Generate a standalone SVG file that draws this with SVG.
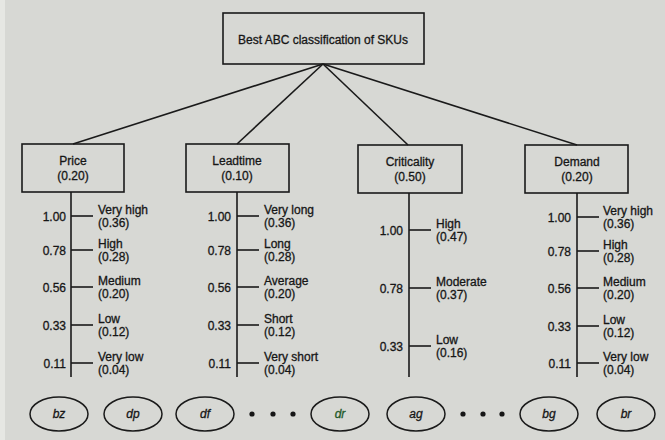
<svg xmlns="http://www.w3.org/2000/svg" width="665" height="440" viewBox="0 0 665 440">
<style>
.bg{fill:#d7d8d4}
.box{fill:none;stroke:#1a1a1a;stroke-width:1.6}
.ln{stroke:#1a1a1a;stroke-width:1.6;fill:none}
text{font-family:"Liberation Sans",Arial,sans-serif;font-size:12px;fill:#161616;stroke:#161616;stroke-width:0.3}
.c{text-anchor:middle}
.v{text-anchor:end}
.e{fill:none;stroke:#1a1a1a;stroke-width:1.5}
.it{font-style:italic;text-anchor:middle}
.dot{fill:#161616}
</style>
<rect class="bg" x="0" y="0" width="665" height="440"/>
<rect x="0" y="0" width="5" height="440" fill="#e6e7e3"/>

<g id="connectors">
<line class="ln" x1="323" y1="64" x2="73" y2="144"/>
<line class="ln" x1="323" y1="64" x2="237" y2="144"/>
<line class="ln" x1="323" y1="64" x2="408" y2="145"/>
<line class="ln" x1="323" y1="64" x2="577" y2="145"/>
</g>

<g id="goal">
<rect class="box" x="223" y="13" width="201" height="51"/>
<text class="c" x="323" y="44">Best ABC classification of SKUs</text>
</g>

<g id="price">
<rect class="box" x="22" y="144" width="102" height="48"/>
<text class="c" x="73" y="165">Price</text>
<text class="c" x="73" y="180">(0.20)</text>
<line class="ln" x1="71" y1="192" x2="71" y2="377"/>
<line class="ln" x1="71" y1="216" x2="93" y2="216"/>
<line class="ln" x1="71" y1="250" x2="93" y2="250"/>
<line class="ln" x1="71" y1="287" x2="93" y2="287"/>
<line class="ln" x1="71" y1="325" x2="93" y2="325"/>
<line class="ln" x1="71" y1="363" x2="93" y2="363"/>
<text class="v" x="66" y="221">1.00</text>
<text class="v" x="66" y="255">0.78</text>
<text class="v" x="66" y="292">0.56</text>
<text class="v" x="66" y="330">0.33</text>
<text class="v" x="66" y="368">0.11</text>
<text x="98" y="214">Very high</text><text x="98" y="227">(0.36)</text>
<text x="98" y="248">High</text><text x="98" y="261">(0.28)</text>
<text x="98" y="285">Medium</text><text x="98" y="298">(0.20)</text>
<text x="98" y="323">Low</text><text x="98" y="336">(0.12)</text>
<text x="98" y="361">Very low</text><text x="98" y="374">(0.04)</text>
</g>

<g id="leadtime">
<rect class="box" x="186" y="144" width="103" height="48"/>
<text class="c" x="237" y="165">Leadtime</text>
<text class="c" x="237" y="180">(0.10)</text>
<line class="ln" x1="237" y1="192" x2="237" y2="377"/>
<line class="ln" x1="237" y1="216" x2="259" y2="216"/>
<line class="ln" x1="237" y1="250" x2="259" y2="250"/>
<line class="ln" x1="237" y1="287" x2="259" y2="287"/>
<line class="ln" x1="237" y1="325" x2="259" y2="325"/>
<line class="ln" x1="237" y1="363" x2="259" y2="363"/>
<text class="v" x="231" y="221">1.00</text>
<text class="v" x="231" y="255">0.78</text>
<text class="v" x="231" y="292">0.56</text>
<text class="v" x="231" y="330">0.33</text>
<text class="v" x="231" y="368">0.11</text>
<text x="264" y="214">Very long</text><text x="264" y="227">(0.36)</text>
<text x="264" y="248">Long</text><text x="264" y="261">(0.28)</text>
<text x="264" y="285">Average</text><text x="264" y="298">(0.20)</text>
<text x="264" y="323">Short</text><text x="264" y="336">(0.12)</text>
<text x="264" y="361">Very short</text><text x="264" y="374">(0.04)</text>
</g>

<g id="criticality">
<rect class="box" x="358" y="145" width="104" height="48"/>
<text class="c" x="410" y="166">Criticality</text>
<text class="c" x="410" y="181">(0.50)</text>
<line class="ln" x1="409" y1="193" x2="409" y2="377"/>
<line class="ln" x1="409" y1="230" x2="431" y2="230"/>
<line class="ln" x1="409" y1="288" x2="431" y2="288"/>
<line class="ln" x1="409" y1="346" x2="431" y2="346"/>
<text class="v" x="403" y="235">1.00</text>
<text class="v" x="403" y="293">0.78</text>
<text class="v" x="403" y="351">0.33</text>
<text x="436" y="228">High</text><text x="436" y="241">(0.47)</text>
<text x="436" y="286">Moderate</text><text x="436" y="299">(0.37)</text>
<text x="436" y="344">Low</text><text x="436" y="357">(0.16)</text>
</g>

<g id="demand">
<rect class="box" x="525" y="145" width="103" height="48"/>
<text class="c" x="577" y="166">Demand</text>
<text class="c" x="577" y="181">(0.20)</text>
<line class="ln" x1="577" y1="193" x2="577" y2="377"/>
<line class="ln" x1="577" y1="217" x2="599" y2="217"/>
<line class="ln" x1="577" y1="251" x2="599" y2="251"/>
<line class="ln" x1="577" y1="288" x2="599" y2="288"/>
<line class="ln" x1="577" y1="326" x2="599" y2="326"/>
<line class="ln" x1="577" y1="363" x2="599" y2="363"/>
<text class="v" x="571" y="222">1.00</text>
<text class="v" x="571" y="256">0.78</text>
<text class="v" x="571" y="293">0.56</text>
<text class="v" x="571" y="331">0.33</text>
<text class="v" x="571" y="368">0.11</text>
<text x="603" y="215">Very high</text><text x="603" y="228">(0.36)</text>
<text x="603" y="249">High</text><text x="603" y="262">(0.28)</text>
<text x="603" y="286">Medium</text><text x="603" y="299">(0.20)</text>
<text x="603" y="324">Low</text><text x="603" y="337">(0.12)</text>
<text x="603" y="361">Very low</text><text x="603" y="374">(0.04)</text>
</g>

<g id="sku-bz"><ellipse class="e" cx="59" cy="414" rx="29" ry="17"/><text class="it" x="59" y="418">bz</text></g>
<g id="sku-dp"><ellipse class="e" cx="133" cy="414" rx="29" ry="17"/><text class="it" x="133" y="418">dp</text></g>
<g id="sku-df"><ellipse class="e" cx="205" cy="414" rx="29" ry="17"/><text class="it" x="205" y="418">df</text></g>
<g id="dots1"><circle class="dot" cx="252" cy="414" r="2.6"/><circle class="dot" cx="273" cy="414" r="2.6"/><circle class="dot" cx="293" cy="414" r="2.6"/></g>
<g id="sku-dr"><ellipse class="e" cx="340" cy="414" rx="29" ry="17"/><text class="it" x="340" y="418" style="fill:#1f5a2a;stroke:#1f5a2a">dr</text></g>
<g id="sku-ag"><ellipse class="e" cx="416" cy="414" rx="29" ry="17"/><text class="it" x="416" y="418">ag</text></g>
<g id="dots2"><circle class="dot" cx="463" cy="414" r="2.6"/><circle class="dot" cx="483" cy="414" r="2.6"/><circle class="dot" cx="502" cy="414" r="2.6"/></g>
<g id="sku-bg"><ellipse class="e" cx="549" cy="414" rx="29" ry="17"/><text class="it" x="549" y="418">bg</text></g>
<g id="sku-br"><ellipse class="e" cx="626" cy="414" rx="29" ry="17"/><text class="it" x="626" y="418">br</text></g>
</svg>
